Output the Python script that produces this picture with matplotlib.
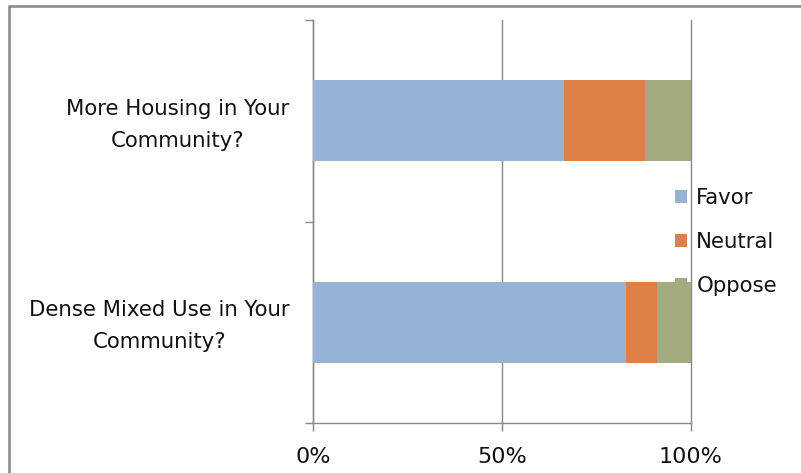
import matplotlib
matplotlib.use("Agg")
import matplotlib.pyplot as plt
import matplotlib.transforms as mtransforms
from matplotlib.patches import Rectangle
from matplotlib.ticker import FixedLocator, FuncFormatter

# Survey questions (bottom to top) and response shares in percent
questions = ["Dense Mixed Use in Your\nCommunity?", "More Housing in Your\nCommunity?"]
favor = [83.0, 66.5]
neutral = [8.0, 21.5]
oppose = [9.0, 12.0]
series_names = ["Favor", "Neutral", "Oppose"]
x_ticks = [0, 50, 100]

colors = ["#95B3D7", "#DD8047", "#A5AB81"]
grey = "#888888"

W, H = 801, 473
fig = plt.figure(figsize=(W / 100, H / 100), dpi=100)
fig.patch.set_facecolor("white")

# outer chart frame (top and left edges visible)
fig.patches.append(Rectangle((9 / W, -0.2), 1.2, 1.2 - 6 / H,
                             transform=fig.transFigure, fill=False,
                             edgecolor=grey, linewidth=1.8))

left, right, top, bottom = 313, 690.7, 20, 423
ax = fig.add_axes([left / W, 1 - bottom / H, (right - left) / W, (bottom - top) / H])

pos = list(range(len(questions)))
lefts = [0.0] * len(questions)
for vals, name, col in zip([favor, neutral, oppose], series_names, colors):
    ax.barh(pos, vals, left=lefts, height=0.4, color=col, label=name,
            zorder=3, linewidth=0)
    lefts = [a + b for a, b in zip(lefts, vals)]

ax.set_xlim(0, 100)
ax.set_ylim(-0.5, len(questions) - 0.5)

# vertical gridlines
ax.xaxis.grid(True, color=grey, linewidth=1.0, zorder=0)
ax.set_axisbelow(True)
for gl in ax.get_xgridlines():
    gl.set_clip_on(False)

for s in ["top", "right"]:
    ax.spines[s].set_visible(False)
for s in ["left", "bottom"]:
    ax.spines[s].set_color(grey)
    ax.spines[s].set_linewidth(1.0)

ax.xaxis.set_major_locator(FixedLocator(x_ticks))
ax.xaxis.set_major_formatter(FuncFormatter(lambda v, p: f"{int(v)}%"))
ax.tick_params(axis="x", which="major", direction="out", length=6, width=1.0,
               color=grey, labelsize=16, pad=11, labelcolor="#111111")

# category separators as major y ticks, labels on minor ticks
ax.yaxis.set_major_locator(FixedLocator([-0.5, 0.5, 1.5]))
ax.yaxis.set_major_formatter(FuncFormatter(lambda v, p: ""))
ax.yaxis.set_minor_locator(FixedLocator(pos))
ax.set_yticks(pos, questions, minor=True)
ax.tick_params(axis="y", which="major", direction="out", length=6, width=1.0, color=grey)
ax.tick_params(axis="y", which="minor", length=0, pad=17, labelsize=15.3,
               labelcolor="#111111")
lift = mtransforms.ScaledTranslation(0, 3 / 72, fig.dpi_scale_trans)
for lbl in ax.get_yticklabels(minor=True):
    lbl.set_multialignment("center")
    lbl.set_linespacing(1.75)
    lbl.set_transform(lbl.get_transform() + lift)

leg = ax.legend(loc="center left", bbox_to_anchor=(675 / W, 1 - 242 / H),
                bbox_transform=fig.transFigure, frameon=False, fontsize=15.3,
                handlelength=0.55, handleheight=0.55, handletextpad=0.45,
                labelspacing=1.12, borderpad=0, borderaxespad=0)
leg.set_zorder(1)
for t in leg.get_texts():
    t.set_color("#111111")

fig.savefig("out.png", dpi=100)
